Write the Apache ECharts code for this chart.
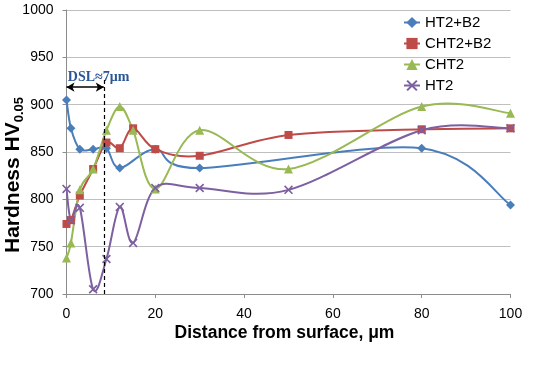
<!DOCTYPE html>
<html>
<head>
<meta charset="utf-8">
<script src="https://cdn.jsdelivr.net/npm/echarts@6/dist/echarts.min.js"></script>
<style>html,body{margin:0;padding:0;background:#fff}#c{width:543px;height:372px}</style>
</head>
<body>
<div id="c"></div>
<script>
// ---- data ----
const seriesNames = ['HT2+B2', 'CHT2+B2', 'CHT2', 'HT2'];
const xHT2B2  = [0, 1, 3, 6, 9, 12, 20, 30, 80, 100];
const vHT2B2  = [905, 875, 853, 853, 854, 833, 853, 833, 854, 794];
const xCHT2B2 = [0, 1, 3, 6, 9, 12, 15, 20, 30, 50, 80, 100];
const vCHT2B2 = [774, 778, 804, 832, 860, 854, 875, 853, 846, 868, 874, 875];
const xCHT2   = [0, 1, 3, 6, 9, 12, 15, 20, 30, 50, 80, 100];
const vCHT2   = [738, 754, 810, 832, 873, 898, 873, 811, 873, 832, 898, 891];
const xHT2    = [0, 1, 3, 6, 9, 12, 15, 20, 30, 50, 80, 100];
const vHT2    = [811, 778, 791, 705, 737, 792, 754, 812, 812, 810, 873, 875];
const xTicks = [0, 20, 40, 60, 80, 100];
const yTicks = [700, 750, 800, 850, 900, 950, 1000];
// annotation (data space)
const dslLabel = 'DSL\u22487\u03bcm';
const dslX = 8.4;
const dslArrowY = 918.5;
const dslTopY = 926;
const dslTextPos = [0.3, 928];

const zip = (xs, vs) => xs.map((x, i) => [x, vs[i]]);
const colors = ['#4A7EBB', '#BE4B48', '#98B954', '#7D60A0'];
const xSym = 'path://M0,1.3L1.3,0L5,3.7L8.7,0L10,1.3L6.3,5L10,8.7L8.7,10L5,6.3L1.3,10L0,8.7L3.7,5Z';
const FONT = 'Liberation Sans, Arial, sans-serif';

const chart = echarts.init(document.getElementById('c'), null, {renderer: 'canvas'});

// Excel-style smoothed curve drawn through the data points (pixel space via the axes)
function curveSeries(xs, vs, color) {
  return {
    type: 'custom', coordinateSystem: 'cartesian2d', clip: true, silent: true,
    animation: false, z: 2,
    data: [[xs[0], vs[0]]], encode: {x: 0, y: 1},
    renderItem: function (params, api) {
      const pts = xs.map((x, i) => api.coord([x, vs[i]]));
      let d = 'M' + pts[0][0] + ',' + pts[0][1];
      for (let i = 0; i < pts.length - 1; i++) {
        const p0 = pts[Math.max(i - 1, 0)], p1 = pts[i], p2 = pts[i + 1];
        const p3 = pts[Math.min(i + 2, pts.length - 1)];
        const c1 = [p1[0] + (p2[0] - p0[0]) / 6, p1[1] + (p2[1] - p0[1]) / 6];
        const c2 = [p2[0] - (p3[0] - p1[0]) / 6, p2[1] - (p3[1] - p1[1]) / 6];
        d += 'C' + c1[0] + ',' + c1[1] + ',' + c2[0] + ',' + c2[1] + ',' + p2[0] + ',' + p2[1];
      }
      return {type: 'path', shape: {pathData: d}, style: {stroke: color, lineWidth: 2, fill: 'none'}};
    }
  };
}
function mk(name, data, color, symbol, size, extra) {
  return Object.assign({
    name, type: 'line', data,
    symbol, symbolSize: size, showAllSymbol: true,
    lineStyle: {color, width: 2, opacity: 0},
    itemStyle: {color},
    emphasis: {disabled: true},
    animation: false, z: 3
  }, extra || {});
}
const legendData = seriesNames.map((n, i) => ({
  name: n, lineStyle: {color: colors[i], width: 2, opacity: 1}
}));
chart.setOption({
  animation: false,
  grid: {left: 66.5, right: 32.5, top: 10, bottom: 78, outerBoundsMode: 'none', containLabel: false},
  legend: {
    orient: 'vertical', left: 398, top: 10,
    itemWidth: 16, itemHeight: 14, itemGap: 6,
    textStyle: {fontFamily: FONT, fontSize: 15, color: '#000', lineHeight: 14},
    data: legendData
  },
  xAxis: {
    type: 'value', min: xTicks[0], max: xTicks[xTicks.length - 1], interval: 20,
    name: 'Distance from surface, \u03bcm', nameLocation: 'middle', nameGap: 30, nameMoveOverlap: false,
    nameTextStyle: {fontFamily: FONT, fontSize: 17.5, fontWeight: 'bold', color: '#000', padding: [0, 8, 0, 0]},
    axisLine: {lineStyle: {color: '#8C8C8C', width: 1}},
    axisTick: {show: true, length: 4, lineStyle: {color: '#8C8C8C'}},
    axisLabel: {fontFamily: FONT, fontSize: 14, color: '#000', margin: 13},
    splitLine: {show: false}
  },
  yAxis: {
    type: 'value', min: yTicks[0], max: yTicks[yTicks.length - 1], interval: 50,
    name: '{a|Hardness HV}{b|0.05}', nameLocation: 'middle', nameGap: 43, nameRotate: 90, nameMoveOverlap: false,
    nameTextStyle: {
      padding: [0, 46, 0, 0],
      rich: {
        a: {fontFamily: FONT, fontSize: 21, fontWeight: 'bold', color: '#000', lineHeight: 26, verticalAlign: 'bottom'},
        b: {fontFamily: FONT, fontSize: 13, fontWeight: 'bold', color: '#000', lineHeight: 26, verticalAlign: 'bottom', padding: [0, 0, -2, 0]}
      }
    },
    axisLine: {show: true, lineStyle: {color: '#8C8C8C', width: 1}},
    axisTick: {show: true, length: 4, lineStyle: {color: '#8C8C8C'}},
    axisLabel: {fontFamily: FONT, fontSize: 14, color: '#000', margin: 13, formatter: v => String(v)},
    splitLine: {lineStyle: {color: '#BFBFBF', width: 1}}
  },
  series: [
    curveSeries(xHT2B2, vHT2B2, colors[0]),
    curveSeries(xCHT2B2, vCHT2B2, colors[1]),
    curveSeries(xCHT2, vCHT2, colors[2]),
    curveSeries(xHT2, vHT2, colors[3]),
    mk(seriesNames[0], zip(xHT2B2, vHT2B2), colors[0], 'diamond', 9, {
      markLine: {
        silent: true, animation: false, symbol: ['none', 'none'],
        label: {show: false},
        lineStyle: {color: '#000', width: 1.2, type: [4, 3]},
        data: [[{coord: [dslX, yTicks[0]]}, {coord: [dslX, dslTopY]}]]
      }
    }),
    mk(seriesNames[1], zip(xCHT2B2, vCHT2B2), colors[1], 'rect', 8, {
      markLine: {
        silent: true, animation: false, symbol: ['arrow', 'arrow'], symbolSize: [7, 8],
        label: {show: false},
        lineStyle: {color: '#000', width: 1.5, type: 'solid'},
        data: [[{coord: [0, dslArrowY]}, {coord: [dslX, dslArrowY]}]]
      }
    }),
    mk(seriesNames[2], zip(xCHT2, vCHT2), colors[2], 'triangle', 9),
    mk(seriesNames[3], zip(xHT2, vHT2), colors[3], xSym, 9)
  ]
});
const tp = chart.convertToPixel({gridIndex: 0}, dslTextPos);
chart.setOption({
  graphic: [{
    type: 'text', left: tp[0], top: tp[1] - 8, silent: true,
    style: {text: dslLabel, fontFamily: 'Liberation Serif, DejaVu Serif, serif', fontWeight: 'bold', fontSize: 14, fill: '#2B5797'}
  }]
});
</script>
</body>
</html>
